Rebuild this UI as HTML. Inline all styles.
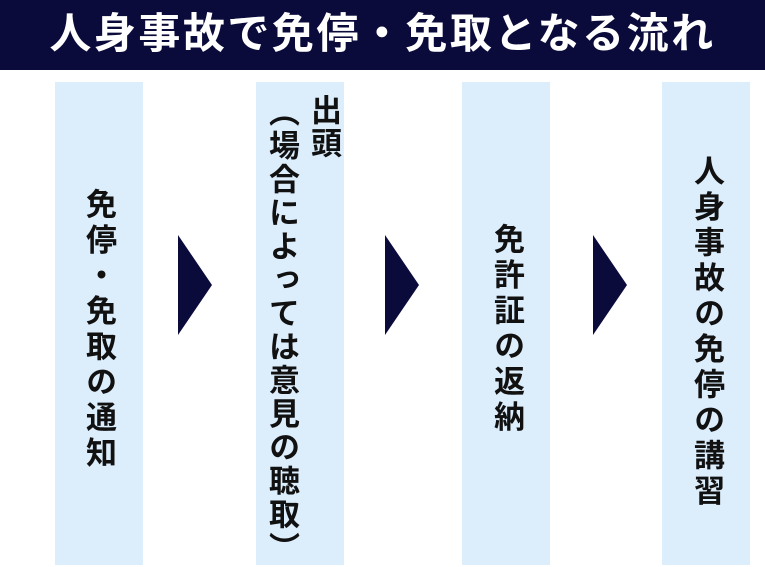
<!DOCTYPE html>
<html><head><meta charset="utf-8"><style>
body{margin:0;width:765px;height:567px;background:#fff;position:relative;overflow:hidden;font-family:"Liberation Sans","Noto Sans CJK JP",sans-serif;font-weight:bold}
.hd{position:absolute;left:0;top:0;width:765px;height:70px;background:#0b0b3b;color:#fff;font-size:42px;line-height:68px;text-align:center;letter-spacing:2.5px}
.bx{position:absolute;top:82px;height:483px;width:88px;background:#dcedfc}
.v{position:absolute;writing-mode:vertical-rl;font-size:31px;color:#111;line-height:34px;white-space:nowrap}
.ar{position:absolute;width:0;height:0;border-top:50px solid transparent;border-bottom:50px solid transparent;border-left:34px solid #0b0b3b}
</style></head><body>
<div class="hd">人身事故で免停・免取となる流れ</div>
<div class="bx" style="left:55px"></div>
<div class="bx" style="left:256px"></div>
<div class="bx" style="left:462px"></div>
<div class="bx" style="left:662px"></div>
<div class="v" style="left:81px;top:188px;letter-spacing:4.5px">免停・免取の通知</div>
<div class="v" style="left:306px;top:94px;letter-spacing:2px">出頭</div>
<div class="v" style="left:264px;top:96px;letter-spacing:2.5px">（場合によっては意見の聴取）</div>
<div class="v" style="left:489px;top:223px;letter-spacing:4.5px">免許証の返納</div>
<div class="v" style="left:689px;top:155px;letter-spacing:4.5px">人身事故の免停の講習</div>
<div class="ar" style="left:178px;top:235px"></div>
<div class="ar" style="left:385px;top:235px"></div>
<div class="ar" style="left:593px;top:235px"></div>
</body></html>
